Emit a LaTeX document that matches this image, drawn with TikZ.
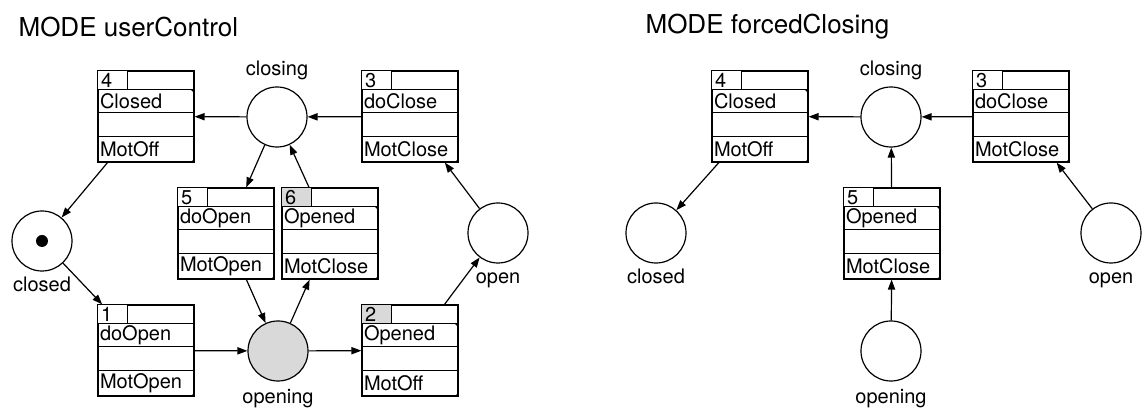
\documentclass[tikz,border=0pt]{standalone}
\usepackage{fontspec}
\setmainfont{TeX Gyre Heros}
\usetikzlibrary{arrows.meta,positioning,calc}
\definecolor{numgray}{gray}{0.85}

% transition box: name, centre, number, number fill, event, mark (m/n), action
\newcommand{\trans}[7]{%
  \node (#1) [tbox] at (#2) {};
  \draw[fill=#4] (#1.north west) rectangle ($(#1.north west)+(30,19)$);
  \draw ($(#1.north west)+(0,19)$) -- ($(#1.north east)+(0,19)$);
  \draw ($(#1.north west)+(0,42)$) -- ($(#1.north east)+(0,42)$);
  \draw ($(#1.north west)+(0,66)$) -- ($(#1.north east)+(0,66)$);
  \node (#1n) [ttxt] at ($(#1.north west)+(3,10)$) {#3};
  \node (#1e) [ttxt] at ($(#1.north west)+(2,30.5)$) {#5};
  \node (#1a) [ttxt] at ($(#1.north west)+(2,79)$) {#7};
  \if#6m\fill ($(#1.north east)+(-4,19)$) -- ($(#1.north east)+(0,19)$) -- ($(#1.north east)+(0,23)$) -- cycle;\fi
  \fill ($(#1.south east)+(-4,0)$) -- (#1.south east) -- ($(#1.south east)+(0,-4)$) -- cycle;
}

\begin{document}
\begin{tikzpicture}[x=0.5pt,y=-0.5pt,line width=0.6pt,
  >={Triangle[length=5pt,width=3.6pt]},
  tbox/.style={draw,rectangle,minimum width=48pt,minimum height=45.5pt,inner sep=0pt},
  ttxt/.style={anchor=west,inner sep=0pt,font=\fontsize{10pt}{12pt}\selectfont},
  place/.style={draw,circle,minimum size=30pt,inner sep=0pt},
  lab/.style={inner sep=0pt,text height=7.5pt,text depth=2.2pt,font=\fontsize{10pt}{12pt}\selectfont},
  title/.style={anchor=west,inner sep=0pt,font=\fontsize{13pt}{15pt}\selectfont}]
\useasboundingbox (0,0) rectangle (1142,410);

% MODE userControl
\node (tleft) [title] at (18,27) {MODE userControl};
\trans{t4}{146,116.5}{4}{white}{Closed}{m}{MotOff}
\trans{t3}{410,116.5}{3}{white}{doClose}{n}{MotClose}
\trans{t5}{226,233.5}{5}{white}{doOpen}{n}{MotOpen}
\trans{t6}{330,233.5}{6}{numgray}{Opened}{m}{MotClose}
\trans{t1}{146,350.5}{1}{white}{doOpen}{n}{MotOpen}
\trans{t2}{410,350.5}{2}{numgray}{Opened}{m}{MotOff}
\node (closing) [place] at (277,117) {};
\node (closed) [place] at (42,241) {};
\node (opening) [place,fill=numgray] at (278,351) {};
\node (open) [place] at (498,233) {};
\fill (closed) circle (3pt);
\node (closingl) [lab,above=3pt of closing] {closing};
\node (closedl) [lab,below=2pt of closed] {closed};
\node (openingl) [lab,below=3pt of opening] {opening};
\node (openl) [lab,below=2pt of open] {open};
\draw[->] (t3) -- (closing);
\draw[->] (closing) -- (t4);
\draw[->] (t4) -- (closed);
\draw[->] (closed) -- (t1);
\draw[->] (t1) -- (opening);
\draw[->] (opening) -- (t2);
\draw[->] (t2) -- (open);
\draw[->] (open) -- (t3);
\draw[->] (closing) -- (t5);
\draw[->] (t6) -- (closing);
\draw[->] (t5) -- (opening);
\draw[->] (opening) -- (t6);

% MODE forcedClosing
\node (tright) [title] at (645,27) {MODE forcedClosing};
\trans{r4}{760,116.5}{4}{white}{Closed}{m}{MotOff}
\trans{r3}{1021,116.5}{3}{white}{doClose}{n}{MotClose}
\trans{r5}{892,233.5}{5}{white}{Opened}{m}{MotClose}
\node (rclosing) [place] at (891,117) {};
\node (rclosed) [place] at (656,233) {};
\node (ropening) [place] at (891,351) {};
\node (ropen) [place] at (1111,233) {};
\node (rclosingl) [lab,above=3pt of rclosing] {closing};
\node (rclosedl) [lab,below=2pt of rclosed] {closed};
\node (ropeningl) [lab,below=3pt of ropening] {opening};
\node (ropenl) [lab,below=2pt of ropen] {open};
\draw[->] (r3) -- (rclosing);
\draw[->] (rclosing) -- (r4);
\draw[->] (r4) -- (rclosed);
\draw[->] (r5) -- (rclosing);
\draw[->] (ropening) -- (r5);
\draw[->] (ropen) -- (r3);
\end{tikzpicture}
\end{document}
